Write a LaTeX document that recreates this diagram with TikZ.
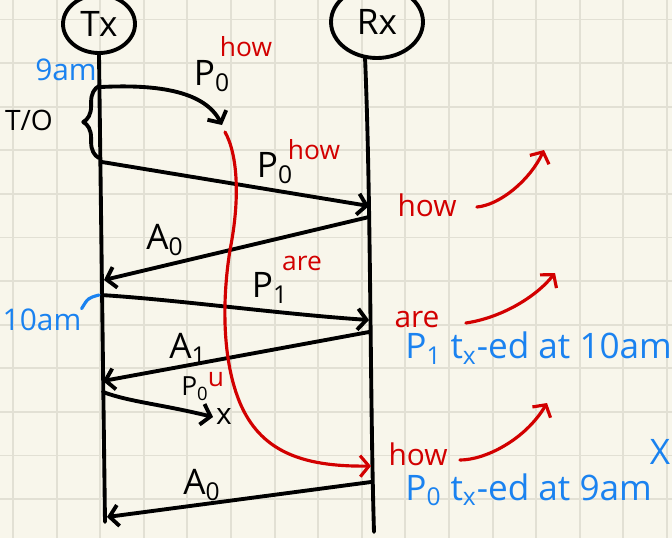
\documentclass[tikz,border=0pt]{standalone}
\usepackage{fontspec}
\setmainfont{Open Sans}
\usetikzlibrary{shapes.geometric,arrows.meta,decorations.pathreplacing}
\definecolor{paper}{HTML}{F8F6EB}
\definecolor{gridline}{HTML}{E2E0D4}
\definecolor{inkred}{HTML}{D20000}
\definecolor{inkblue}{HTML}{1A82F0}

\begin{document}
\begin{tikzpicture}[x=0.02cm,y=-0.02cm,
	>={Straight Barb[length=5pt,width=12pt]},
	ink/.style={line width=2.2pt,line cap=round,line join=round},
	redink/.style={line width=1.8pt,inkred,line cap=round,line join=round},
	party/.style={ellipse,draw,line width=2.2pt,inner sep=0pt,font=\fontsize{20}{24}\selectfont},
	lbl/.style={font=\fontsize{20}{24}\selectfont,inner sep=0pt},
	smalllbl/.style={font=\fontsize{15}{18}\selectfont,inner sep=0pt},
	redword/.style={font=\fontsize{15}{18}\selectfont,text=inkred,inner sep=0pt},
	blueword/.style={font=\fontsize{17}{20}\selectfont,text=inkblue,inner sep=0pt}]
			
			% squared paper
			\fill[paper] (0,0) rectangle (672,538);
			\useasboundingbox (0,0) rectangle (672,538);
			\foreach \i in {0,...,15}
				\draw[gridline,line width=1.1pt] (13+43.6*\i,0) -- (13+43.6*\i,538);
			\foreach \j in {0,...,11}
				\draw[gridline,line width=1.1pt] (0,19.5+43.6*\j) -- (672,19.5+43.6*\j);
			
			\node[party,minimum width=1.44cm,minimum height=1.16cm] (tx) at (99,24) {Tx};
			\node[party,minimum width=1.84cm,minimum height=1.44cm] (rx) at (377,22) {Rx};
			
			\coordinate (txend) at (105,522);
			\coordinate (rxtop) at (365,57);
			\coordinate (rxend) at (374,532);
			
			\draw[ink] (tx.south) -- (txend);
			\draw[ink] (rxtop) .. controls (371,200) and (370,400) .. (rxend);
			
			% message ends
			\coordinate (s1) at (101,87);   \coordinate (e1) at (222,125);
			\coordinate (s2) at (102,162);  \coordinate (e2) at (369,206);
			\coordinate (s3) at (369,217);  \coordinate (e3) at (104,280);
			\coordinate (s4) at (101,295);  \coordinate (e4) at (369,320);
			\coordinate (s5) at (369,332);  \coordinate (e5) at (103,381);
			\coordinate (s6) at (103,392);  \coordinate (e6) at (213,417);
			\coordinate (s7) at (371,482);  \coordinate (e7) at (107,517);
			\coordinate (r0) at (225,132);  \coordinate (r1) at (371,466);
			
			\draw[ink,->] (s1) .. controls (160,84) and (205,92) .. (e1);
			\draw[ink,->] (s2) -- (e2);
			\draw[ink,->] (s3) -- (e3);
			\draw[ink,->] (s4) .. controls (180,300) and (280,314) .. (e4);
			\draw[ink,->] (s5) -- (e5);
			\draw[ink,->] (s6) .. controls (130,402) and (160,404) .. (e6);
			\draw[ink,->] (s7) -- (e7);
			
			% the late copy of P0
			\draw[redink,->] (r0) .. controls (238,155) and (240,200) .. (230,250)
				.. controls (222,300) and (222,360) .. (240,403)
				.. controls (260,450) and (300,467) .. (r1);
			
			% timeout
			\draw[ink,decorate,decoration={brace,amplitude=9pt}] (99,158) -- (99,86);
			\node[lbl,font=\fontsize{16}{19}\selectfont] (to) at (29,120) {T/O};
			\node[blueword] (nine) at (66,70) {9am};
			\node[blueword] (ten) at (42,320) {10am};
			\draw[inkblue,line width=1.8pt,line cap=round] (ten.north east) .. controls (88,298) .. (tx.south |- s4);
			
			% labels on the messages
			\node[lbl] (p0a) at (212,76) {P\textsubscript{0}};
			\node[redword] (how1) at (246,47) {how};
			\node[lbl] (p0b) at (275,168) {P\textsubscript{0}};
			\node[redword] (how2) at (314,150) {how};
			\node[lbl] (a0a) at (165,240) {A\textsubscript{0}};
			\node[lbl] (p1) at (270,288) {P\textsubscript{1}};
			\node[redword] (are1) at (302,263) {are};
			\node[lbl] (a1) at (188,349) {A\textsubscript{1}};
			\node[smalllbl] (p0c) at (195,389) {P\textsubscript{0}};
			\node[redword] (you) at (216,380) {u};
			\node[smalllbl,font=\fontsize{17}{20}\selectfont] (lost) at (224,416) {x};
			\node[lbl] (a0b) at (202,485) {A\textsubscript{0}};
			
			% what Rx hands up
			\node[redword,font=\fontsize{17}{20}\selectfont] (how3) at (427,205) {how};
			\node[redword,font=\fontsize{17}{20}\selectfont] (are2) at (417,319) {are};
			\node[redword,font=\fontsize{17}{20}\selectfont] (how4) at (418,454) {how};
			\coordinate (k1) at (544,150);
			\coordinate (k2) at (555,273);
			\coordinate (k3) at (547,403);
			\draw[redink,->] (how3.east) ++(20,2) .. controls (500,205) and (530,180) .. (k1);
			\draw[redink,->] (are2.east) ++(26,4) .. controls (500,318) and (535,298) .. (k2);
			\draw[redink,->] (how4.east) ++(12,6) .. controls (485,460) and (525,440) .. (k3);
			
			\node[blueword,font=\fontsize{20}{24}\selectfont,anchor=west] (note1) at (405,348) {P\textsubscript{1} t\textsubscript{x}-ed at 10am};
			\node[blueword,font=\fontsize{20}{24}\selectfont,anchor=west] (note2) at (405,490) {P\textsubscript{0} t\textsubscript{x}-ed at 9am};
			\node[blueword,font=\fontsize{20}{24}\selectfont] (cross) at (660,452) {X};
			
		\end{tikzpicture}
\end{document}
